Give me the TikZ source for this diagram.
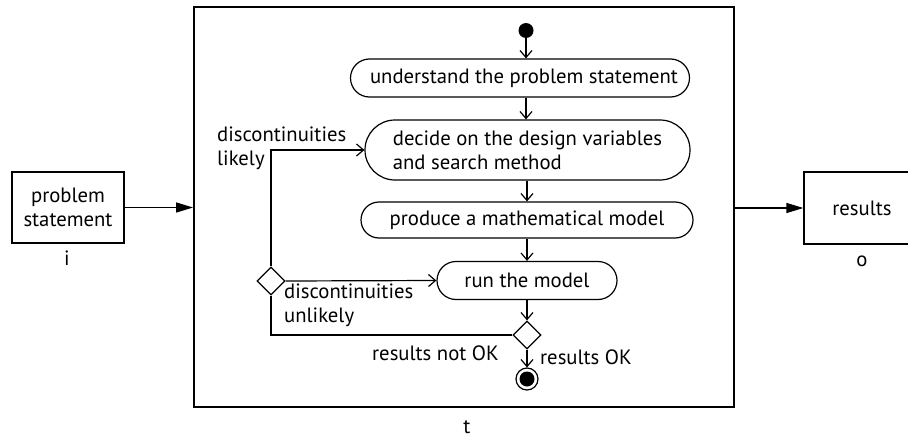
\documentclass[tikz,border=0pt]{standalone}
\usepackage{fontspec}
\setmainfont{PT Sans}
\usetikzlibrary{shapes.geometric,arrows.meta}
\begin{document}
\begin{tikzpicture}[x=1pt,y=-1pt,
  every node/.style={font=\fontsize{20.7}{24}\selectfont},
  act/.style={draw, line width=1.2pt, inner sep=0pt},
  dec/.style={draw, diamond, line width=1.2pt, minimum width=28pt, minimum height=28pt, inner sep=0pt},
  box/.style={draw, line width=1.3pt, inner sep=0pt},
  flow/.style={line width=1.2pt, -{Straight Barb[length=7pt,width=12pt,line width=1.2pt]}},
  io/.style={line width=1.3pt, -{Triangle[length=17pt,width=10pt]}},
  lbl/.style={inner sep=0pt, align=left}
]
\useasboundingbox (0,0) rectangle (908,439);
\clip (0,0) rectangle (908,439);

% outer boxes
\node[box, line width=1.8pt, minimum width=540pt, minimum height=400pt] (main) at (464,207) {};
\node[box, minimum width=112pt, minimum height=71pt, align=center] (ps) at (68,207.5) {problem\\statement};
\node[box, minimum width=116pt, minimum height=72pt] (res) at (862,208) {results};
\node[inner sep=0pt] (i) at (67,258) {i};
\node[inner sep=0pt] (o) at (862,261) {o};
\node[inner sep=0pt] (t) at (467,427) {t};

% activities
\node[circle, fill, inner sep=0pt, minimum size=15pt] (start) at (526,30.5) {};
\node[act, minimum width=339pt, minimum height=38pt, rounded corners=19pt] (u) at (520,78) {\hspace{8pt}understand the problem statement};
\node[act, minimum width=325pt, minimum height=60pt, rounded corners=30pt, align=left] (d) at (527.5,150) {decide on the design variables\\and search method};
\node[act, minimum width=332pt, minimum height=36pt, rounded corners=18pt] (p) at (527,220) {produce a mathematical model};
\node[act, minimum width=180pt, minimum height=38pt, rounded corners=19pt] (r) at (527,280.5) {run the model};
\node[dec] (dA) at (271,281) {};
\node[dec] (dB) at (527,335) {};
\node[circle, draw, line width=1.2pt, inner sep=0pt, minimum size=22pt] (end) at (527,379) {};
\fill (end.center) circle (7.5pt);

% labels
\node[lbl, anchor=base west] (l1) at (217,165) {discontinuities\\likely};
\node[lbl, anchor=base west] (l2) at (284,322) {discontinuities\\unlikely};
\node[lbl, anchor=base west] (l3) at (372,360) {results not OK};
\node[lbl, anchor=base west] (l4) at (540,364) {results OK};

% connectors
\draw[io] (ps.east) -- (main.west |- ps.east);
\draw[io] (main.east |- res.west) -- (res.west);
\draw[flow] (start) -- (u.north -| start);
\draw[flow] (u.south -| start) -- (start |- d.north);
\draw[flow] (d.south -| p.north) -- (p.north);
\draw[flow] (p.south) -- (r.north);
\draw[flow] (r.south) -- (dB.north);
\draw[flow] (dB.south) -- (end.north);
\draw[line width=1.2pt] (dB.west) -- (dA.south |- dB.west) -- (dA.south);
\draw[flow] (dA.north) -- (dA.north |- d.west) -- (d.west);
\draw[flow] (dA.east) -- (r.west);
\end{tikzpicture}
\end{document}
